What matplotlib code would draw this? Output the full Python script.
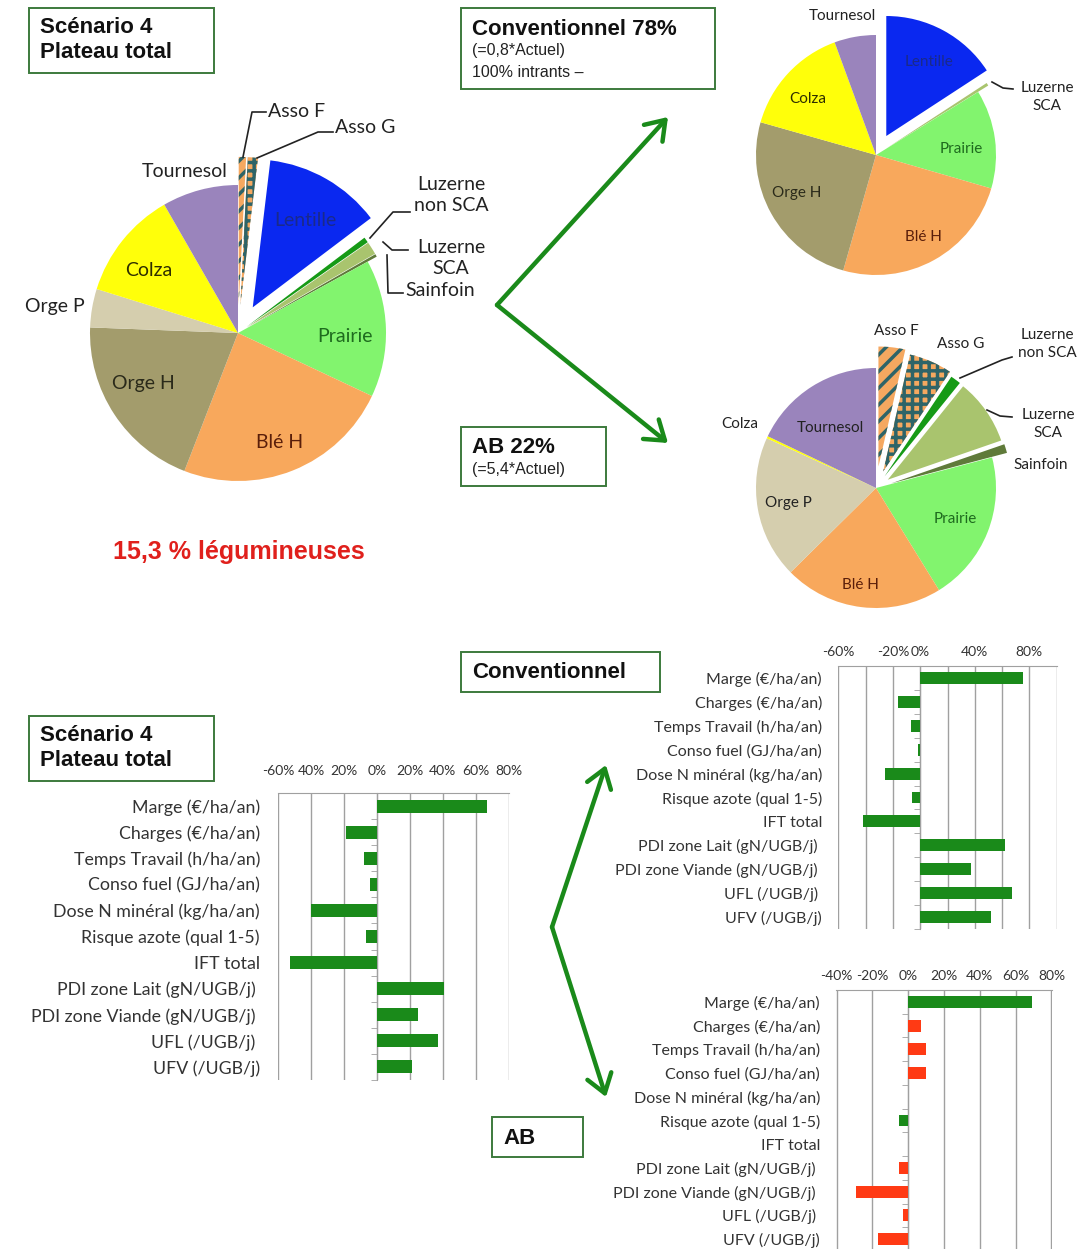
import matplotlib
matplotlib.use('Agg')
import matplotlib.pyplot as plt
from matplotlib.patches import Rectangle
from matplotlib.ticker import FixedLocator, FixedFormatter
import numpy as np

W, H = 1078, 1249
plt.rcParams['font.family'] = ['Lato', 'DejaVu Sans']
plt.rcParams['hatch.linewidth'] = 2.5

# --- pies: share of area (%), clockwise from 12 o'clock ---
crops_main = ['Asso F', 'Asso G', 'Lentille', 'Luzerne non SCA', 'Luzerne SCA', 'Sainfoin',
              'Prairie', 'Blé H', 'Orge H', 'Orge P', 'Colza', 'Tournesol']
share_main = [0.8, 1.1, 12.8, 0.6, 1.4, 0.3, 15.0, 23.9, 19.7, 4.2, 11.9, 8.3]

crops_conv = ['Lentille', 'Luzerne SCA', 'Prairie', 'Blé H', 'Orge H', 'Colza', 'Tournesol']
share_conv = [15.8, 0.4, 13.3, 24.9, 25.0, 15.0, 5.6]

crops_ab = ['Asso F', 'Asso G', 'Luzerne non SCA', 'Luzerne SCA', 'Sainfoin',
            'Prairie', 'Blé H', 'Orge P', 'Colza', 'Tournesol']
share_ab = [3.6, 5.8, 1.4, 8.9, 1.2, 20.3, 21.4, 19.2, 0.3, 17.9]

# --- bars: change vs current situation (%) ---
indicators = ['Marge (€/ha/an)', 'Charges (€/ha/an)', 'Temps Travail (h/ha/an)',
              'Conso fuel (GJ/ha/an)', 'Dose N minéral (kg/ha/an)', 'Risque azote (qual 1-5)',
              'IFT total', 'PDI zone Lait (gN/UGB/j) ', 'PDI zone Viande (gN/UGB/j) ',
              'UFL (/UGB/j) ', 'UFV (/UGB/j)']
delta_total = [67, -19, -8, -4, -40, -7, -53, 41, 25, 37, 21]
delta_conv = [75, -16, -7, -2, -26, -6, -42, 62, 37, 67, 52]
delta_ab = [69, 7, 10, 10, 0, -5, 0, -5, -29, -3, -17]
ab_good = [True, False, False, False, True, True, True, False, False, False, False]

crop_colors = {'Asso F': '#F5A860', 'Asso G': '#F5A860', 'Lentille': '#0A28F0',
               'Luzerne non SCA': '#169A16', 'Luzerne SCA': '#A9C46E', 'Sainfoin': '#5F7A3A',
               'Prairie': '#82F46E', 'Blé H': '#F8A85C', 'Orge H': '#A39C6C',
               'Orge P': '#D5CEAE', 'Colza': '#FFFF0A', 'Tournesol': '#9A84BC'}
hatches = {'Asso F': '//', 'Asso G': '++'}
teal = '#2E6468'
green = '#1A8A1A'
red = '#FF3A14'
box_green = '#3C7A3C'

fig = plt.figure(figsize=(W / 100, H / 100), dpi=100)
fig.patch.set_facecolor('white')
ax0 = fig.add_axes([0, 0, 1, 1])


def draw_pie(crops, shares, explode, cx, cy, r):
    # explode is given as a fraction of the radius; pie wants data units
    wedges, _ = ax0.pie(shares, colors=[crop_colors[c] for c in crops],
                        explode=[e * r for e in explode],
                        startangle=90, counterclock=False, center=(cx, H - cy), radius=r,
                        wedgeprops=dict(linewidth=0))
    for w, c in zip(wedges, crops):
        if c in hatches:
            w.set_hatch(hatches[c])
            w.set_edgecolor(teal)
            w.set_linewidth(0)


def T(x, y, s, fs=10, ha='center', color='#222222', **kw):
    ax0.text(x, H - y, s, fontsize=fs, ha=ha, va='center', color=color, **kw)


def leader(xs, ys):
    ax0.plot(xs, [H - y for y in ys], color='#222222', lw=1.2)


def box(x0, y0, x1, y1):
    ax0.add_patch(Rectangle((x0, H - y1), x1 - x0, y1 - y0, fill=False,
                            edgecolor=box_green, lw=1.4))


def arrow(x0, y0, x1, y1):
    ax0.annotate('', xy=(x1, H - y1), xytext=(x0, H - y0),
                 arrowprops=dict(arrowstyle='->,head_length=0.65,head_width=0.45',
                                 lw=3.2, color=green, shrinkA=0, shrinkB=0,
                                 mutation_scale=20))


draw_pie(crops_main, share_main, [0.19, 0.19, 0.2, 0.07, 0.07, 0.07, 0, 0, 0, 0, 0, 0],
         238, 333, 148)
draw_pie(crops_conv, share_conv, [0.18, 0.1, 0, 0, 0, 0, 0], 876, 155, 120)
draw_pie(crops_ab, share_ab, [0.18, 0.15, 0.12, 0.12, 0.13, 0, 0, 0, 0, 0], 876, 488, 120)

ax0.set_xlim(0, W)
ax0.set_ylim(0, H)
ax0.set_aspect('auto')
ax0.set_axis_off()
ax0.patch.set_visible(False)

# main pie labels
fm = 14
T(185, 171, 'Tournesol', fm)
T(149, 270, 'Colza', fm, color='#2E2E00')
T(55, 306, 'Orge P', fm)
T(143, 383, 'Orge H', fm, color='#2A2A1A')
T(280, 442, 'Blé H', fm, color='#5A1E0A')
T(345, 336, 'Prairie', fm, color='#1E6B1E')
T(305, 220, 'Lentille', fm, color='#1A2A8A')
T(268, 111, 'Asso F', fm, ha='left')
T(335, 127, 'Asso G', fm, ha='left')
T(451, 195, 'Luzerne\nnon SCA', fm, linespacing=1.35)
T(451, 258, 'Luzerne\nSCA', fm, linespacing=1.35)
T(440, 290, 'Sainfoin', fm)
leader([243, 252, 266], [157, 112, 112])
leader([257, 318, 333], [158, 132, 132])
leader([370, 393, 410], [238, 212, 212])
leader([383, 392, 408], [242, 250, 250])
leader([387, 388, 403], [255, 293, 293])

# conventional pie labels
fc = 11
T(842, 16, 'Tournesol', fc)
T(929, 62, 'Lentille', fc, color='#1A2A8A')
T(1047, 97, 'Luzerne\nSCA', fc, linespacing=1.35)
T(808, 99, 'Colza', fc, color='#2E2E00')
T(961, 149, 'Prairie', fc, color='#1E6B1E')
T(797, 193, 'Orge H', fc, color='#2A2A1A')
T(923, 237, 'Blé H', fc, color='#5A1E0A')
leader([992, 1003, 1013], [82, 88, 89])

# organic pie labels
T(896, 331, 'Asso F', fc)
T(961, 344, 'Asso G', fc)
T(1047, 344, 'Luzerne\nnon SCA', fc, linespacing=1.35)
T(1048, 424, 'Luzerne\nSCA', fc, linespacing=1.35)
T(1041, 465, 'Sainfoin', fc)
T(740, 424, 'Colza', fc)
T(830, 428, 'Tournesol', fc)
T(788, 503, 'Orge P', fc)
T(955, 519, 'Prairie', fc, color='#1E6B1E')
T(860, 585, 'Blé H', fc, color='#5A1E0A')
leader([960, 1002, 1012], [378, 360, 357])
leader([987, 1000, 1012], [410, 416, 417])

# text boxes
bf = dict(family=['Liberation Sans', 'DejaVu Sans'])
box(29, 8, 214, 73)
T(40, 27, 'Scénario 4', 16, ha='left', color='#111111', fontweight='bold', **bf)
T(40, 52, 'Plateau total', 16, ha='left', color='#111111', fontweight='bold', **bf)
box(461, 8, 715, 89)
T(472, 29, 'Conventionnel 78%', 16, ha='left', color='#111111', fontweight='bold', **bf)
T(472, 50, '(=0,8*Actuel)', 11.5, ha='left', **bf)
T(472, 72, '100% intrants –', 11.5, ha='left', **bf)
box(461, 427, 606, 486)
T(472, 447, 'AB 22%', 16, ha='left', color='#111111', fontweight='bold', **bf)
T(472, 469, '(=5,4*Actuel)', 11.5, ha='left', **bf)
T(239, 552, '15,3 % légumineuses', 18, color='#E0201C', fontweight='bold', **bf)
box(461, 652, 660, 692)
T(472, 672, 'Conventionnel', 16, ha='left', color='#111111', fontweight='bold', **bf)
box(29, 716, 214, 781)
T(40, 735, 'Scénario 4', 16, ha='left', color='#111111', fontweight='bold', **bf)
T(40, 760, 'Plateau total', 16, ha='left', color='#111111', fontweight='bold', **bf)
box(492, 1117, 583, 1157)
T(503, 1138, 'AB', 16, ha='left', color='#111111', fontweight='bold', **bf)

# arrows
arrow(497, 305, 668, 117)
arrow(497, 305, 668, 443)
arrow(552, 927, 606, 765)
arrow(552, 927, 606, 1097)


def bar_panel(bx, values, colors, xlim, ticks, ticklabels, fs, xpad, ypad):
    x0, y0, x1, y1 = bx
    ax = fig.add_axes([x0 / W, 1 - y1 / H, (x1 - x0) / W, (y1 - y0) / H])
    ax.patch.set_alpha(0)
    pos = np.arange(len(indicators))
    ax.barh(pos, values, height=0.5, color=colors, zorder=3)
    ax.set_ylim(len(indicators) - 0.5, -0.5)
    ax.set_xlim(*xlim)
    ax.xaxis.set_major_locator(FixedLocator(ticks))
    ax.xaxis.set_major_formatter(FixedFormatter(ticklabels))
    ax.xaxis.tick_top()
    ax.tick_params(axis='x', length=0, labelsize=10, labelcolor='#333333', pad=xpad)
    ax.grid(axis='x', color='#A0A0A0', lw=1.0, zorder=0)
    ax.set_yticks(pos, indicators)
    ax.tick_params(axis='y', which='major', length=0, labelsize=fs, labelcolor='#333333',
                   pad=ypad, right=False)
    ax.set_yticks(np.arange(-0.5, len(indicators)), minor=True)
    ax.tick_params(axis='y', which='minor', left=False, right=True, direction='in',
                   length=4, color='#A0A0A0')
    for s in ['left', 'bottom']:
        ax.spines[s].set_visible(False)
    ax.spines['top'].set_color('#A0A0A0')
    ax.spines['right'].set_position(('data', 0))
    ax.spines['right'].set_color('#A0A0A0')
    return ax


bar_panel((278, 793, 509, 1080), delta_total, green, (-60.3, 80.3),
          list(range(-60, 81, 20)), ['-60%', '40%', '20%', '0%', '20%', '40%', '60%', '80%'],
          12.8, 11.5, 13)
bar_panel((838, 666, 1057, 929), delta_conv, green, (-60.3, 100.3),
          list(range(-60, 101, 20)), ['-60%', '', '-20%', '0%', '', '40%', '', '80%', ''],
          11.5, 6, 11.5)
bar_panel((836, 990, 1052, 1251), delta_ab, [green if g else red for g in ab_good],
          (-40.3, 80.3), list(range(-40, 81, 20)),
          ['-40%', '-20%', '0%', '20%', '40%', '60%', '80%'], 11.5, 6, 11.5)

fig.savefig('out.png', dpi=100, facecolor='white')
